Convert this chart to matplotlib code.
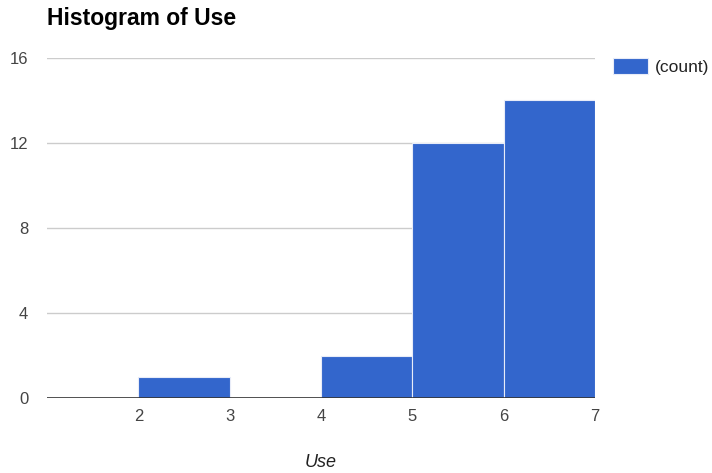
import matplotlib
matplotlib.use("Agg")
import matplotlib.pyplot as plt
import numpy as np

plt.rcParams['font.family'] = ['Liberation Sans', 'DejaVu Sans']

# histogram bins of "Use" and their counts
bin_left = [2, 3, 4, 5, 6]
bin_right = [3, 4, 5, 6, 7]
counts = [1, 0, 2, 12, 14]
y_ticks = [0, 4, 8, 12, 16]
x_ticks = [2, 3, 4, 5, 6, 7]


def main():
    fig = plt.figure(figsize=(7.12, 4.73), dpi=100)
    ax = fig.add_axes([47 / 712, 1 - 398 / 473, (595 - 47) / 712, (398 - 58) / 473])

    widths = np.array(bin_right) - np.array(bin_left)
    ax.bar(bin_left, counts, width=widths, align='edge', color='#3366cc',
           edgecolor='#e8ecf8', linewidth=0.8, label='(count)', zorder=2)

    ax.set_xlim(1, 7)
    ax.set_ylim(0, 16)
    ax.set_yticks(y_ticks)
    ax.set_xticks(x_ticks)
    for y in y_ticks[1:]:
        ax.axhline(y, color='#cccccc', linewidth=1, zorder=1)
    ax.axhline(0, color='#333333', linewidth=1.2, zorder=3)

    for s in ax.spines.values():
        s.set_visible(False)
    ax.tick_params(length=0, labelsize=12, labelcolor='#444444')
    ax.tick_params(axis='y', pad=13.5)
    ax.tick_params(axis='x', pad=8)

    fig.text(321 / 712, 1 - 462 / 473, 'Use', fontsize=13, style='italic',
             color='#222222', ha='center', va='center')
    fig.text(47 / 712, 1 - 18 / 473, 'Histogram of Use', fontsize=16.5,
             fontweight='bold', color='#000000', va='center', ha='left')

    ax.legend(loc='upper left', bbox_to_anchor=(613 / 712, 1 - 58 / 473),
              bbox_transform=fig.transFigure, frameon=False,
              fontsize=12.5, handlelength=2.0, handleheight=1.0,
              handletextpad=0.4, labelcolor='#222222',
              borderpad=0, borderaxespad=0)

    fig.savefig("out.png", dpi=100)


if __name__ == '__main__':
    main()
